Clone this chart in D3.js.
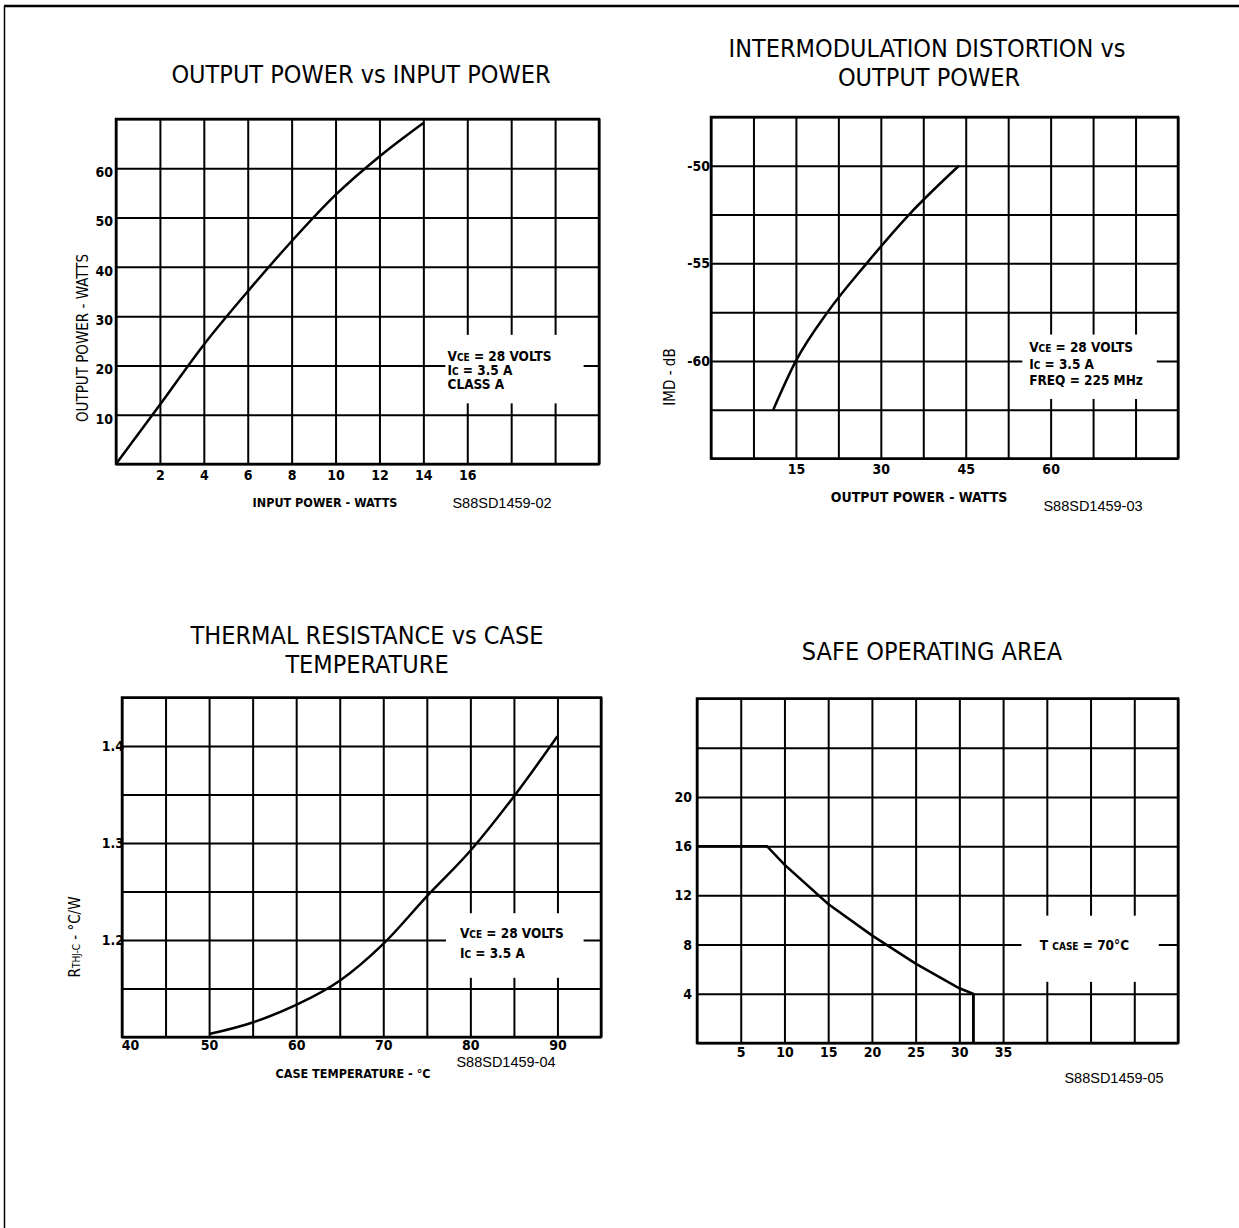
<!DOCTYPE html>
<html>
<head>
<meta charset="utf-8">
<script src="https://cdn.jsdelivr.net/npm/d3@7"></script>
<style>
body { margin: 0; background: #fff; }
svg { display: block; }
.title { font-family: "Liberation Sans Narrow", "DejaVu Sans Condensed", sans-serif; font-size: 25px; fill: #000; text-anchor: middle; }
.grid line { stroke: #000; stroke-width: 2; }
.grid .domain, .labels .domain { display: none; }
.labels text { font-family: "Liberation Sans Narrow", "DejaVu Sans Condensed", sans-serif; font-weight: bold; font-size: 14px; fill: #000; }
.xtitle { font-family: "Liberation Sans Narrow", "DejaVu Sans Condensed", sans-serif; font-weight: bold; text-anchor: middle; }
.ytitle { font-family: "Liberation Sans Narrow", "DejaVu Sans Condensed", sans-serif; font-size: 15px; text-anchor: middle; }
.code { font-family: "Liberation Sans", Arial, sans-serif; font-size: 14.5px; text-anchor: middle; }
.note { font-family: "Liberation Sans Narrow", "DejaVu Sans Condensed", sans-serif; font-weight: bold; font-size: 13.5px; }
.curve { fill: none; stroke: #000; stroke-width: 2.5; }
.box { fill: none; stroke: #000; stroke-width: 2.5; }
</style>
</head>
<body>
<div id="chart"></div>
<script>
// output power vs input power
var opInput  = [0, 2, 4, 6, 8, 10, 12, 14];
var opOutput = [0, 12, 24.2, 35, 45.2, 54.6, 62.4, 69.2];
var opXLabels = [2, 4, 6, 8, 10, 12, 14, 16];
var opYLabels = [10, 20, 30, 40, 50, 60];

// IMD vs output power
var imdPower = [11, 15, 20.6, 27.5, 35, 43.8];
var imdDb    = [-62.5, -60, -57.5, -55, -52.5, -50];
var imdXLabels = [15, 30, 45, 60];
var imdYLabels = [-50, -55, -60];

// thermal resistance vs case temperature
var thTemp = [50, 55, 60, 65, 70, 75, 80, 85, 90];
var thRes  = [1.103, 1.115, 1.133, 1.158, 1.196, 1.245, 1.292, 1.348, 1.41];
var thXLabels = [40, 50, 60, 70, 80, 90];
var thYLabels = [1.2, 1.3, 1.4];

// safe operating area
var soaV = [0, 8, 10, 15, 20, 25, 30, 31.6, 31.6];
var soaI = [16, 16, 14.5, 11.3, 8.75, 6.45, 4.45, 4, 0];
var soaXLabels = [5, 10, 15, 20, 25, 30, 35];
var soaYLabels = [4, 8, 12, 16, 20];

var W = 1239, H = 1228;
var svg = d3.select("#chart").append("svg").attr("width", W).attr("height", H);

// page frame
svg.append("line").attr("x1", 4).attr("y1", 6).attr("x2", W).attr("y2", 6)
    .attr("stroke", "#000").attr("stroke-width", 2.5);
svg.append("line").attr("x1", 4.5).attr("y1", 6).attr("x2", 4.5).attr("y2", H)
    .attr("stroke", "#000").attr("stroke-width", 1.5);

function parts(sel, list) {
    list.forEach(function(part) {
        var s = sel.append("tspan").text(part[0]);
        if (part[1]) s.attr("font-size", part[1]);
    });
}

function panel(o) {
    var x = d3.scaleLinear().domain(o.xDomain).range([o.box[0], o.box[1]]);
    var y = d3.scaleLinear().domain(o.yDomain).range([o.box[3], o.box[2]]);
    var w = o.box[1] - o.box[0], h = o.box[3] - o.box[2];
    var g = svg.append("g");

    g.append("g").attr("class", "grid")
        .attr("transform", "translate(0," + o.box[3] + ")")
        .call(d3.axisBottom(x).tickValues(d3.range(o.xDomain[0], o.xDomain[1] + 1e-9, o.xStep))
            .tickSize(-h).tickFormat(""));
    g.append("g").attr("class", "grid")
        .attr("transform", "translate(" + o.box[0] + ",0)")
        .call(d3.axisLeft(y).tickValues(d3.range(o.yDomain[0], o.yDomain[1] + 1e-9, o.yStep))
            .tickSize(-w).tickFormat(""));

    // knockout behind the note
    var k = o.knock;
    g.append("rect")
        .attr("x", x(k[0])).attr("y", y(k[3]))
        .attr("width", x(k[1]) - x(k[0])).attr("height", y(k[2]) - y(k[3]))
        .attr("fill", "#fff");

    g.append("rect").attr("class", "box")
        .attr("x", o.box[0]).attr("y", o.box[2]).attr("width", w).attr("height", h);

    var xl = g.append("g").attr("class", "labels")
        .attr("transform", "translate(0," + o.box[3] + ")")
        .call(d3.axisBottom(x).tickValues(o.xLabels).tickSize(0).tickPadding(o.xPad)
            .tickFormat(function(d) { return String(d); }));
    if (o.firstDx) xl.selectAll("text").filter(function(d, i) { return i === 0; }).attr("dx", o.firstDx);
    g.append("g").attr("class", "labels")
        .attr("transform", "translate(" + o.box[0] + ",0)")
        .call(d3.axisLeft(y).tickValues(o.yLabels).tickSize(0).tickPadding(o.yPad)
            .tickFormat(o.yFormat))
        .selectAll("text").attr("dy", o.yDy);

    var pts = o.xs.map(function(d, i) { return [d, o.ys[i]]; });
    var line = d3.line().x(function(d) { return x(d[0]); }).y(function(d) { return y(d[1]); });
    g.append("path").attr("class", "curve").attr("d", line.curve(o.curve)(pts));
    if (o.drop) {
        g.append("path").attr("class", "curve").attr("stroke-width", 5)
            .attr("d", line.curve(d3.curveLinear)(pts.slice(-2)));
    }

    o.note.lines.forEach(function(l, i) {
        var t = g.append("text").attr("class", "note")
            .attr("x", x(o.note.x)).attr("y", y(o.note.y) + i * o.note.gap);
        if (o.note.size) t.attr("font-size", o.note.size);
        parts(t, l);
    });

    o.titles.forEach(function(tt) {
        svg.append("text").attr("class", "title").attr("x", tt[1]).attr("y", tt[2]).text(tt[0]);
    });
    if (o.xTitle) svg.append("text").attr("class", "xtitle")
        .attr("x", o.xTitle[1]).attr("y", o.xTitle[2]).attr("font-size", o.xTitle[3]).text(o.xTitle[0]);
    if (o.yTitle) {
        var yt = svg.append("text").attr("class", "ytitle")
            .attr("transform", "translate(" + o.yTitle[1] + "," + o.yTitle[2] + ") rotate(-90)");
        parts(yt, o.yTitle[0]);
    }
    svg.append("text").attr("class", "code").attr("x", o.code[1]).attr("y", o.code[2]).text(o.code[0]);
}

panel({
    box: [116, 599, 119, 464], xDomain: [0, 22], yDomain: [0, 70], xStep: 2, yStep: 10,
    xLabels: opXLabels, yLabels: opYLabels, xPad: 6, yPad: 3, yDy: "0.6em",
    yFormat: function(d) { return String(d); },
    xs: opInput, ys: opOutput, curve: d3.curveMonotoneX,
    knock: [15.0, 21.3, 12.3, 26.2],
    note: { x: 15.1, y: 20.8, gap: 14, size: "13px", lines: [
        [["V"], ["CE", "10px"], [" = 28 VOLTS"]],
        [["I"], ["C", "10px"], [" = 3.5 A"]],
        [["CLASS A"]]
    ] },
    titles: [["OUTPUT POWER vs INPUT POWER", 361, 83]],
    xTitle: ["INPUT POWER - WATTS", 325, 507, "12.5px"],
    yTitle: [[["OUTPUT POWER - WATTS"]], 88, 338],
    code: ["S88SD1459-02", 502, 508]
});

panel({
    box: [711, 1178, 117, 458.5], xDomain: [0, 82.5], yDomain: [-65, -47.5], xStep: 7.5, yStep: 2.5,
    xLabels: imdXLabels, yLabels: imdYLabels, xPad: 6, yPad: 1, yDy: "0.32em",
    yFormat: function(d) { return String(d); },
    xs: imdPower, ys: imdDb, curve: d3.curveMonotoneX,
    knock: [55, 78.75, -61.95, -58.65],
    note: { x: 56.2, y: -59.55, gap: 16.5, lines: [
        [["V"], ["CE", "10px"], [" = 28 VOLTS"]],
        [["I"], ["C", "10px"], [" = 3.5 A"]],
        [["FREQ = 225 MHz"]]
    ] },
    titles: [["INTERMODULATION DISTORTION vs", 927, 56.5], ["OUTPUT POWER", 929, 86]],
    xTitle: ["OUTPUT POWER - WATTS", 919, 502, "14px"],
    yTitle: [[["IMD - dB"]], 675, 377],
    code: ["S88SD1459-03", 1093, 511]
});

panel({
    box: [122, 601, 697.5, 1037], xDomain: [40, 95], yDomain: [1.1, 1.45], xStep: 5, yStep: 0.05,
    xLabels: thXLabels, yLabels: thYLabels, xPad: 3, yPad: -2, yDy: "0.32em", firstDx: 8,
    yFormat: d3.format(".1f"),
    xs: thTemp, ys: thRes, curve: d3.curveMonotoneX,
    knock: [77.2, 93, 1.161, 1.2276],
    note: { x: 78.8, y: 1.202, gap: 19.5, lines: [
        [["V"], ["CE", "10px"], [" = 28 VOLTS"]],
        [["I"], ["C", "10px"], [" = 3.5 A"]]
    ] },
    titles: [["THERMAL RESISTANCE vs CASE", 367, 643.5], ["TEMPERATURE", 367, 673]],
    xTitle: ["CASE TEMPERATURE - \u00b0C", 353, 1078, "12.5px"],
    yTitle: [[["R"], ["THJ-C", "10px"], [" - \u00b0C/W"]], 80, 937],
    code: ["S88SD1459-04", 506, 1067]
});

panel({
    box: [697, 1178, 698.5, 1043], xDomain: [0, 55], yDomain: [0, 28], xStep: 5, yStep: 4,
    xLabels: soaXLabels, yLabels: soaYLabels, xPad: 4, yPad: 5, yDy: "0.32em",
    yFormat: function(d) { return String(d); },
    xs: soaV, ys: soaI, curve: d3.curveLinear, drop: true,
    knock: [37.1, 52.8, 4.97, 10.35],
    note: { x: 39.2, y: 7.55, gap: 0, lines: [
        [["T "], ["CASE", "10px"], [" = 70\u00b0C"]]
    ] },
    titles: [["SAFE OPERATING AREA", 932, 660]],
    code: ["S88SD1459-05", 1114, 1083]
});
</script>
</body>
</html>
